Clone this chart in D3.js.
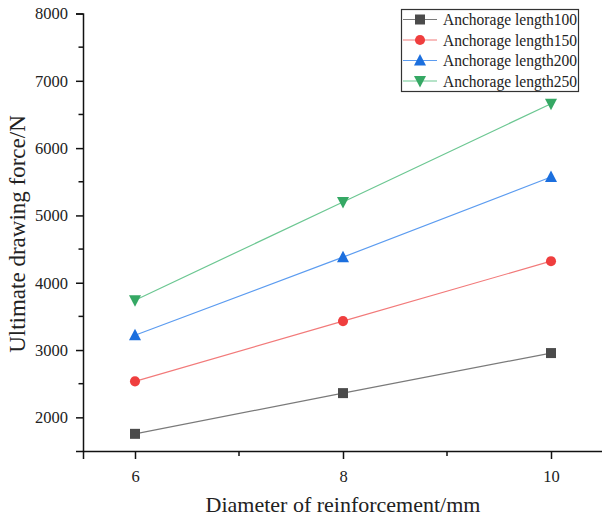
<!DOCTYPE html>
<html>
<head>
<meta charset="utf-8">
<script src="https://cdn.jsdelivr.net/npm/d3@7"></script>
<style>
  html, body { margin: 0; padding: 0; background: #fff; }
  svg { display: block; }
  text { font-family: "Liberation Serif", "Times New Roman", serif; fill: #222; }
  .legend-label { font-size: 16.5px; }
</style>
</head>
<body>
<svg id="chart" width="602" height="517"></svg>
<script>
// Reinforcement diameters (mm)
const diameters = [6, 8, 10];
// Ultimate drawing force (N) for each anchorage length
const len100 = [1755, 2360, 2955];
const len150 = [2535, 3430, 4320];
const len200 = [3220, 4380, 5570];
const len250 = [3740, 5200, 6660];

const seriesNames = ["Anchorage length100", "Anchorage length150", "Anchorage length200", "Anchorage length250"];
const seriesValues = [len100, len150, len200, len250];
const markerKinds = ["square", "circle", "triangleUp", "triangleDown"];
const markerColors = ["#4b4b4b", "#ef3e3e", "#1c6fde", "#35a864"];
const lineColors = ["#7a7a7a", "#f27a7a", "#5c9cf0", "#6cc792"];

const yTicks = [2000, 3000, 4000, 5000, 6000, 7000, 8000];
const xTicks = [6, 8, 10];

const svg = d3.select("#chart");
const x = d3.scaleLinear().domain([5.5, 10.5]).range([83, 603]);
const y = d3.scaleLinear().domain([1500, 8000]).range([451, 13.5]);

// Minor ticks
const yMinor = d3.range(2500, 8000, 1000);
const xMinor = [7, 9];

const g = svg.append("g");

// Y axis
const yAxis = g.append("g").attr("transform", "translate(83,0)")
  .call(d3.axisLeft(y).tickValues(yTicks).tickSize(7).tickPadding(8).tickFormat(d3.format("d")));
yAxis.select(".domain").attr("stroke", "#111").attr("stroke-width", 1.5);
yAxis.selectAll(".tick line").attr("stroke", "#111").attr("stroke-width", 1.5);
yAxis.selectAll(".tick text").style("font-size", "16.5px").attr("fill", "#2a2a2a")
  .style("font-family", '"Liberation Serif", serif');
yAxis.append("g").selectAll("line").data(yMinor).join("line")
  .attr("x1", -4.5).attr("x2", 0).attr("y1", d => y(d)).attr("y2", d => y(d))
  .attr("stroke", "#111").attr("stroke-width", 1.5);

// X axis
const xAxis = g.append("g").attr("transform", "translate(0,451)")
  .call(d3.axisBottom(x).tickValues(xTicks).tickSize(8).tickPadding(11).tickFormat(d3.format("d")));
xAxis.select(".domain").attr("stroke", "#111").attr("stroke-width", 1.5);
xAxis.selectAll(".tick line").attr("stroke", "#111").attr("stroke-width", 1.5);
xAxis.selectAll(".tick text").style("font-size", "16.5px").attr("fill", "#2a2a2a")
  .style("font-family", '"Liberation Serif", serif');
xAxis.append("g").selectAll("line").data(xMinor).join("line")
  .attr("x1", d => x(d)).attr("x2", d => x(d)).attr("y1", 0).attr("y2", 5)
  .attr("stroke", "#111").attr("stroke-width", 1.5);

// Axis titles
svg.append("text")
  .attr("transform", "translate(25,234) rotate(-90)")
  .attr("text-anchor", "middle")
  .style("font-size", "23px")
  .text("Ultimate drawing force/N");
svg.append("text")
  .attr("x", 343).attr("y", 512)
  .attr("text-anchor", "middle")
  .style("font-size", "22px")
  .text("Diameter of reinforcement/mm");

// Marker path generators
function markerPath(kind) {
  if (kind === "square") return "M-5,-5H5V5H-5Z";
  if (kind === "circle") return d3.symbol(d3.symbolCircle, 80)();
  if (kind === "triangleUp") return "M0,-6.5L6,5L-6,5Z";
  return "M0,6.5L6,-5L-6,-5Z";
}

const line = d3.line().x(d => x(d[0])).y(d => y(d[1]));

seriesValues.forEach((vals, i) => {
  const pts = diameters.map((dd, k) => [dd, vals[k]]);
  svg.append("path").datum(pts)
    .attr("d", line).attr("fill", "none")
    .attr("stroke", lineColors[i]).attr("stroke-width", 1.2);
  svg.append("g").selectAll("path").data(pts).join("path")
    .attr("transform", d => `translate(${x(d[0])},${y(d[1])})`)
    .attr("d", markerPath(markerKinds[i]))
    .attr("fill", markerColors[i]);
});

// Legend
const legend = svg.append("g");
legend.append("rect")
  .attr("x", 401.5).attr("y", 9.5).attr("width", 177).attr("height", 82)
  .attr("fill", "#fff").attr("stroke", "#333").attr("stroke-width", 1.2);
seriesNames.forEach((name, i) => {
  const cy = 19.5 + i * 20.5;
  legend.append("line").attr("x1", 403).attr("x2", 437).attr("y1", cy).attr("y2", cy)
    .attr("stroke", lineColors[i]).attr("stroke-width", 1.2);
  legend.append("path").attr("transform", `translate(420,${cy})`)
    .attr("d", markerPath(markerKinds[i])).attr("fill", markerColors[i]);
  // Labels are fitted to the box width so they end just inside the border
  legend.append("text").attr("class", "legend-label")
    .attr("x", 443).attr("y", cy + 5.5)
    .attr("textLength", 134).attr("lengthAdjust", "spacingAndGlyphs")
    .text(name);
});
</script>
</body>
</html>
